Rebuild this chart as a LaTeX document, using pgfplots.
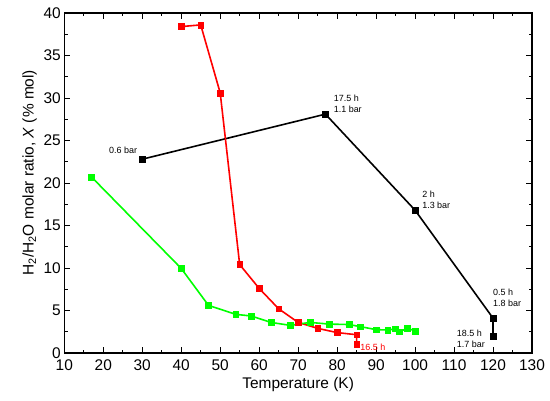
\documentclass[border=0pt]{standalone}
\usepackage{pgfplots}
\pgfplotsset{compat=1.18}
\usepackage{fontspec}
\setmainfont{Liberation Sans}
\begin{document}
\begin{tikzpicture}
\path[use as bounding box] (-64.3bp,-48bp) rectangle (485.7bp,353bp);
\begin{axis}[
  at={(0,0)}, anchor=south west,
  scale only axis, width=467.7bp, height=340bp,
  xmin=10, xmax=130, ymin=0, ymax=40,
  xtick={10,20,...,130}, ytick={0,5,...,40},
  minor x tick num=1, minor y tick num=1,
  tick align=inside,
  major tick length=6bp, minor tick length=3.5bp,
  every tick/.style={black, line width=0.9bp},
  axis line style={line width=1.1bp},
  /pgf/number format/assume math mode=true,
  tick label style={font=\fontsize{15.5}{18}\selectfont},
  xticklabel style={yshift=-3bp},
  label style={font=\fontsize{15.5}{18}\selectfont},
  xlabel={Temperature (K)},
  ylabel={H\textsubscript{2}/H\textsubscript{2}O molar ratio, \textit{X} (\% mol)},
  every axis y label/.append style={at={(ticklabel cs:0.53)}},
]
\addplot[black, line width=1.6bp, mark=square*, mark size=2.9bp, mark options={solid, line width=0.4bp}] coordinates {
 (30,22.8) (77,28.1) (100,16.8) (120,4.1) (120,1.95)};
\addplot[red, line width=1.6bp, mark=square*, mark size=2.9bp, mark options={solid, line width=0.4bp}] coordinates {
 (40,38.4) (45,38.6) (50,30.6) (55,10.4) (60,7.6) (65,5.2) (70,3.6) (75,2.9) (80,2.4) (85,2.15) (85,1.0)};
\addplot[green, line width=1.6bp, mark=square*, mark size=2.9bp, mark options={solid, line width=0.4bp}] coordinates {
 (17,20.7) (40,9.95) (47,5.6) (54,4.55) (58,4.35) (63,3.6) (68,3.25) (73,3.6) (78,3.4) (83,3.35) (86,3.1) (90,2.75) (93,2.7) (95,2.85) (96,2.5) (98,2.9) (100,2.6)};
\begin{scope}[every node/.style={font=\fontsize{9}{11}\selectfont, align=left, inner sep=0pt}]
\node[anchor=center] at (axis cs:25.1,23.9) {0.6 bar};
\node[anchor=west] at (axis cs:79.1,29.3) {17.5 h\\1.1 bar};
\node[anchor=west] at (axis cs:101.8,18.0) {2 h\\1.3 bar};
\node[anchor=west] at (axis cs:120.0,6.47) {0.5 h\\1.8 bar};
\node[anchor=west] at (axis cs:110.7,1.65) {18.5 h\\1.7 bar};
\node[anchor=west, text=red] at (axis cs:85.9,0.7) {16.5 h};
\end{scope}
\end{axis}
\end{tikzpicture}
\end{document}
